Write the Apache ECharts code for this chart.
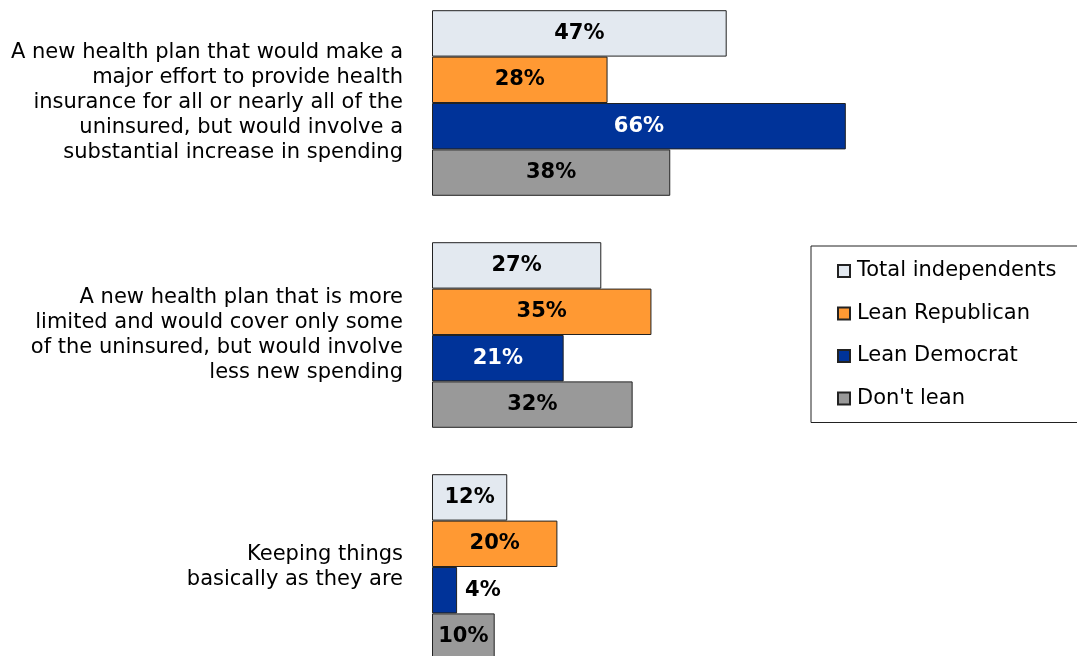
<!DOCTYPE html>
<html>
<head>
<meta charset="utf-8">
<script src="https://cdn.jsdelivr.net/npm/echarts@6/dist/echarts.min.js"></script>
<style>
  html, body { margin: 0; padding: 0; background: #fff; }
  #chart { width: 1077px; height: 656px; }
</style>
</head>
<body>
<div id="chart"></div>
<script>
// Health plan options, each split into the lines shown beside its bars
const categoryLines = [
  ['A new health plan that would make a', 'major effort to provide health', 'insurance for all or nearly all of the', 'uninsured, but would involve a', 'substantial increase in spending'],
  ['A new health plan that is more', 'limited and would cover only some', 'of the uninsured, but would involve', 'less new spending'],
  ['Keeping things', 'basically as they are']
];
const categories = categoryLines.map(l => l.join('\n'));

const seriesNames = ['Total independents', 'Lean Republican', 'Lean Democrat', "Don't lean"];
const totalIndependents = [47, 27, 12];
const leanRepublican = [28, 35, 20];
const leanDemocrat = [66, 21, 4];
const dontLean = [38, 32, 10];

const colors = ['#E3E9F0', '#FF9933', '#003399', '#999999'];
const labelColors = ['#000', '#000', '#fff', '#000'];
const values = [totalIndependents, leanRepublican, leanDemocrat, dontLean];

const FONT = '"DejaVu Sans", Verdana, sans-serif';

const series = values.map((vals, si) => ({
  name: seriesNames[si],
  type: 'bar',
  barGap: '0%',
  barCategoryGap: '20%',
  itemStyle: { color: colors[si], borderColor: '#222', borderWidth: 1 },
  label: {
    show: true,
    position: 'inside',
    formatter: '{c}%',
    color: labelColors[si],
    fontFamily: FONT,
    fontWeight: 'bold',
    fontSize: 21
  },
  data: vals.map(v => {
    // Narrow bars carry their label outside, to the right
    if (v < 8) {
      return { value: v, label: { position: 'right', distance: 8, color: '#000' } };
    }
    return v;
  })
}));

const chart = echarts.init(document.getElementById('chart'), null, { renderer: 'canvas' });
chart.setOption({
  animation: false,
  backgroundColor: '#fff',
  grid: { left: 432, width: 627, top: -13, height: 696, containLabel: false, outerBoundsMode: 'none' },
  xAxis: {
    type: 'value',
    min: 0,
    max: 100,
    show: false
  },
  yAxis: {
    type: 'category',
    inverse: true,
    data: categories,
    axisLine: { show: false },
    axisTick: { show: false },
    splitLine: { show: false },
    axisLabel: {
      margin: 29,
      align: 'right',
      color: '#000',
      fontFamily: FONT,
      fontSize: 21,
      lineHeight: 25,
      padding: [3, 0, 0, 0]
    }
  },
  legend: {
    orient: 'vertical',
    left: 811,
    top: 246,
    padding: [14, 120, 13, 26],
    borderColor: '#222',
    borderWidth: 1,
    itemWidth: 12,
    itemHeight: 12,
    itemGap: 20.5,
    icon: 'rect',
    data: seriesNames,
    textStyle: {
      color: '#000',
      fontFamily: FONT,
      fontSize: 21,
      lineHeight: 22,
      padding: [0, 0, 0, 2]
    }
  },
  series: series
});
</script>
</body>
</html>
